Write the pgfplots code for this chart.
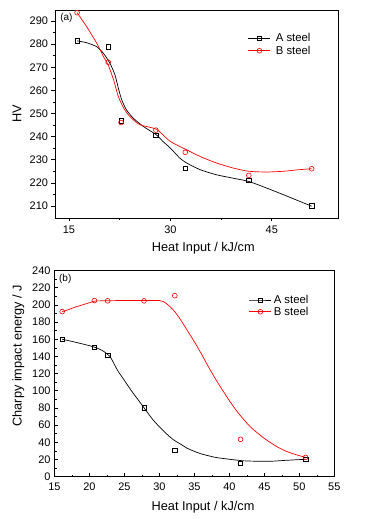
\documentclass[border=0pt]{standalone}
\usepackage{fontspec}
\setmainfont{Liberation Sans}
\usepackage{pgfplots}
\pgfplotsset{compat=1.18}
\pgfplotsset{
  mystyle/.style={
    scale only axis,
    axis line style={line width=0.8pt},
    ticklabel style={font=\fontsize{11}{11}\selectfont},
    /pgf/number format/assume math mode=true,
    label style={font=\fontsize{12.8}{13}\selectfont},
    legend style={draw=none, fill=none, font=\fontsize{11.4}{12}\selectfont, anchor=north west},
    legend cell align=left,
    legend image code/.code={\draw[mark repeat=2,mark phase=2,##1] plot coordinates {(0bp,0bp) (11bp,0bp) (22bp,0bp)};},
    xtick pos=left, ytick pos=left,
    major tick length=3.5bp, minor tick length=2bp,
    tick style={black, line width=0.6pt},
    clip=false,
  },
  Aline/.style={black, line width=0.7pt, smooth, tension=0.4, forget plot},
  Bline/.style={red, line width=0.7pt, smooth, tension=0.4, forget plot},
  Amark/.style={black, only marks, mark=square, mark size=2.2bp, mark options={fill=white, line width=0.6pt, solid}, forget plot},
  Bmark/.style={red, only marks, mark=o, mark size=2.4bp, mark options={fill=white, line width=0.6pt, solid}, forget plot},
}
\begin{document}
\begin{tikzpicture}
\path[use as bounding box] (0,0) rectangle (392bp,519bp);
% ---------- (a) hardness ----------
\begin{axis}[mystyle,
  at={(55bp,301bp)}, anchor=south west, width=283bp, height=208bp,
  xmin=12.93, xmax=54.8, ymin=204.8, ymax=294.75,
  xtick={15,30,45}, ytick={210,220,...,290},
  minor x tick num=1, minor y tick num=1,
  tick align=outside,
  xticklabel style={yshift=-1bp},
  xlabel={Heat Input / kJ/cm}, ylabel={HV},
  xlabel style={at={(axis description cs:0.524,-0.144)}, anchor=center},
  ylabel style={at={(axis description cs:-0.134,0.5)}, anchor=center},
  legend style={at={(axis description cs:0.671,0.904)}, row sep=1bp, nodes={inner xsep=5bp, inner ysep=1bp}},
]
\addplot[Aline] coordinates {(16.2,281.4) (17.6,280.6) (19.1,278.9) (20.1,276) (21.06,271.7) (21.8,266.7) (22.3,261) (22.8,255.9) (23.5,251.6) (24.5,248) (26,244.4) (27.9,240.8) (28.9,237.9) (30,235) (31.4,230.7) (32.4,228.6) (34.4,225.7) (36.8,223.5) (39.3,222) (41.6,220.6) (44.2,217.8) (46.7,214.9) (50.9,209.9)};
\addplot[Bline] coordinates {(16.2,293.6) (17.6,287.6) (19.1,280.4) (20.1,274.6) (20.8,271) (21.6,264.5) (22.3,257.3) (23.1,252.3) (24,248.7) (25.5,245.1) (27.9,243.2) (30,237.9) (32.4,234.3) (34.4,231.4) (36.8,228.6) (39.3,226.4) (41.6,225) (44.2,224.7) (46.7,225) (49.1,225.7) (50.9,226.1)};
\addplot[Amark] coordinates {(16.2,281.4) (20.8,278.8) (22.7,246.8) (27.85,240.6) (32.2,226.4) (41.6,221) (50.9,210)};
\addplot[Bmark] coordinates {(16.2,293.6) (20.8,272.2) (22.7,246.1) (27.85,242.8) (32.2,233.2) (41.6,223.2) (50.9,226.1)};
\addlegendimage{black, line width=0.7pt, mark=square, mark size=2.2bp, mark options={fill=white, line width=0.6pt}}
\addlegendentry{A steel}
\addlegendimage{red, line width=0.7pt, mark=o, mark size=2.4bp, mark options={fill=white, line width=0.6pt}}
\addlegendentry{B steel}
\node[anchor=west, font=\fontsize{10}{10}\selectfont, inner sep=0pt] at (axis description cs:0.018,0.962) {(a)};
\end{axis}
% ---------- (b) Charpy ----------
\begin{axis}[mystyle,
  at={(54.5bp,42.3bp)}, anchor=south west, width=279.8bp, height=206.2bp,
  xmin=15, xmax=55, ymin=0, ymax=240,
  xtick={15,20,...,55}, ytick={0,20,...,240},
  minor x tick num=1, minor y tick num=1,
  tick align=inside,
  xticklabel style={yshift=-2.5bp},
  yticklabel style={xshift=-0.5bp},
  xlabel={Heat Input / kJ/cm}, ylabel={Charpy impact energy / J},
  xlabel style={at={(axis description cs:0.531,-0.149)}, anchor=center},
  ylabel style={at={(axis description cs:-0.129,0.587)}, anchor=center},
  legend style={at={(axis description cs:0.684,0.896)}, row sep=0bp, nodes={inner xsep=2bp, inner ysep=1bp}},
]
\addplot[Aline] coordinates {(16.1,160) (18,156.5) (20,152.5) (21,150) (22,146) (23,139) (24,124) (25,112) (26,100) (27,89) (28,78) (29,67) (30,58) (31,50) (32,43) (33,38) (34,33) (35,29.5) (36,26.5) (38,22.5) (40,20.3) (42,18.5) (44,18) (46,18) (48,19) (50.9,20.3)};
\addplot[Bline] coordinates {(16.1,192.2) (17,194.5) (18,197.5) (19,200) (20,202.5) (20.8,204.5) (22,204.7) (24,205) (26,205) (28,205) (29,205.2) (30,205) (30.5,204) (31,201.5) (32,194) (33,183) (34,170) (35,157) (36,143) (37,128) (38,114) (39,101) (40,88.5) (41,77) (42,67) (43,58) (44,51) (45,44.5) (46,39) (47,34) (48,30) (49,27) (50,24.5) (50.9,22.5)};
\addplot[Amark] coordinates {(16.1,160) (20.7,150.5) (22.6,141.3) (27.8,80.3) (32.2,31) (41.6,15.8) (50.9,20.3)};
\addplot[Bmark] coordinates {(16.1,192.2) (20.7,205) (22.6,204.7) (27.8,204.7) (32.2,210.7) (41.6,43.5) (50.9,22.5)};
\addlegendimage{black, line width=0.7pt, mark=square, mark size=2.2bp, mark options={fill=white, line width=0.6pt}}
\addlegendentry{A steel}
\addlegendimage{red, line width=0.7pt, mark=o, mark size=2.4bp, mark options={fill=white, line width=0.6pt}}
\addlegendentry{B steel}
\node[anchor=west, font=\fontsize{10}{10}\selectfont, inner sep=0pt] at (axis description cs:0.016,0.959) {(b)};
\end{axis}
\end{tikzpicture}
\end{document}
